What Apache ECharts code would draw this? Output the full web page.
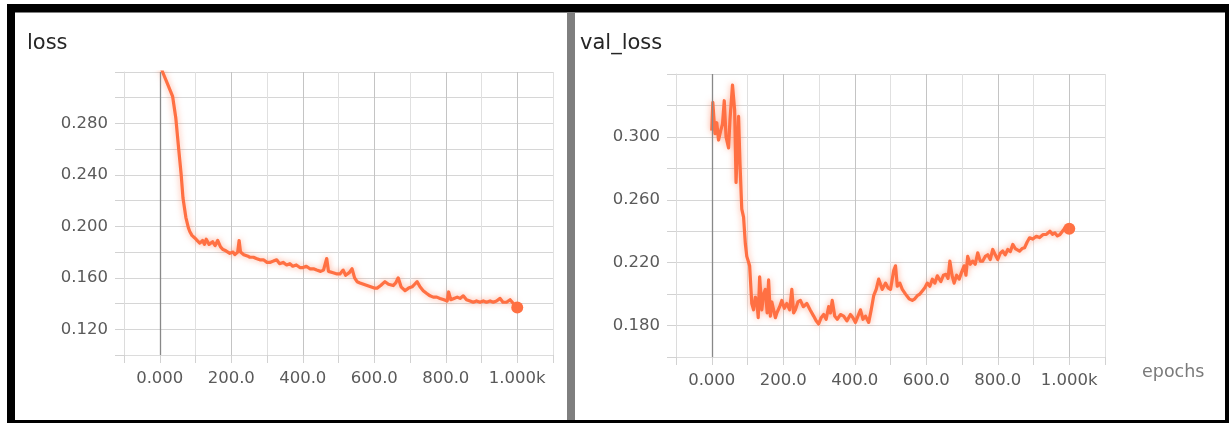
<!DOCTYPE html>
<html>
<head>
<meta charset="utf-8">
<script src="https://cdn.jsdelivr.net/npm/echarts@6/dist/echarts.min.js"></script>
<style>
html,body{margin:0;padding:0;background:#ffffff;}
#chart{width:1229px;height:423px;}
</style>
</head>
<body>
<div id="chart"></div>
<script>
// ---- data ----
const lossEpochs = [0,8,20,36,45,53,60,65,73,80,84,90,98,105,112,120,125,130,138,148,155,162,170,177,185,196,205,210,218,222,226,235,245,252,262,270,280,290,300,308,318,327,335,345,355,364,372,382,392,401,410,420,430,439,450,458,467,472,485,496,504,513,520,530,538,545,552,560,570,580,590,600,608,618,630,640,653,660,667,675,686,696,706,713,720,728,737,746,756,765,775,784,795,804,808,814,823,832,840,849,858,868,877,886,896,905,914,924,933,942,952,960,970,980,985,992,1000];
const lossValues = [0.327,0.320,0.312,0.301,0.284,0.260,0.240,0.222,0.207,0.199,0.196,0.193,0.191,0.189,0.187,0.189,0.186,0.190,0.186,0.188,0.185,0.189,0.184,0.182,0.181,0.179,0.180,0.178,0.180,0.189,0.180,0.178,0.177,0.176,0.176,0.175,0.174,0.174,0.172,0.172,0.173,0.174,0.171,0.172,0.170,0.171,0.169,0.170,0.168,0.168,0.169,0.167,0.167,0.166,0.165,0.166,0.175,0.165,0.164,0.163,0.163,0.166,0.162,0.164,0.167,0.160,0.157,0.156,0.155,0.154,0.153,0.152,0.152,0.154,0.157,0.155,0.154,0.156,0.160,0.153,0.150,0.152,0.153,0.155,0.157,0.153,0.150,0.148,0.146,0.145,0.145,0.144,0.143,0.142,0.149,0.143,0.144,0.145,0.144,0.146,0.143,0.142,0.141,0.142,0.141,0.142,0.141,0.142,0.141,0.142,0.144,0.141,0.141,0.143,0.144,0.139,0.137];

const valEpochs = [0,3,9,14,19,25,30,35,40,47,51,58,64,68,75,79,84,89,94,98,106,112,117,122,126,130,134,140,145,150,155,159,164,168,173,178,182,190,196,203,210,218,224,229,234,241,248,256,266,275,285,292,299,306,313,320,327,332,337,344,351,360,369,378,388,395,402,409,416,423,430,439,446,453,460,467,472,477,486,493,500,509,514,519,526,533,542,552,561,568,575,582,589,596,603,610,617,624,631,641,648,655,661,666,672,678,685,692,699,706,711,716,723,730,737,744,751,758,765,772,779,786,793,800,807,814,821,828,835,842,849,861,868,875,882,889,898,908,917,927,936,946,953,960,967,974,981,988,994,1000];
const valValues = [0.304,0.322,0.302,0.309,0.298,0.304,0.308,0.323,0.300,0.293,0.311,0.333,0.317,0.271,0.313,0.283,0.254,0.249,0.232,0.224,0.218,0.194,0.190,0.198,0.196,0.185,0.211,0.190,0.200,0.203,0.188,0.209,0.186,0.195,0.194,0.185,0.188,0.192,0.196,0.191,0.194,0.190,0.203,0.188,0.190,0.195,0.196,0.192,0.194,0.190,0.186,0.183,0.181,0.185,0.187,0.184,0.192,0.188,0.196,0.186,0.184,0.187,0.186,0.183,0.187,0.185,0.182,0.186,0.190,0.184,0.186,0.182,0.190,0.199,0.203,0.2095,0.210,0.203,0.207,0.204,0.203,0.215,0.218,0.205,0.207,0.203,0.200,0.197,0.196,0.197,0.199,0.200,0.202,0.204,0.207,0.205,0.2095,0.207,0.2116,0.208,0.212,0.2126,0.210,0.221,0.212,0.207,0.212,0.2095,0.214,0.218,0.212,0.224,0.219,0.221,0.219,0.2263,0.221,0.221,0.224,0.225,0.222,0.2284,0.225,0.222,0.226,0.2274,0.225,0.2284,0.227,0.2316,0.229,0.2274,0.229,0.2295,0.233,0.2358,0.235,0.2368,0.236,0.2379,0.238,0.240,0.238,0.2389,0.237,0.2379,0.240,0.2421,0.241,0.2415];

const chartTitles = ['loss', 'val_loss'];
const xAxisName = 'epochs';
const xTickLabels = ['0.000', '200.0', '400.0', '600.0', '800.0', '1.000k'];
const lossTickLabels = ['0.120', '0.160', '0.200', '0.240', '0.280'];
const valTickLabels = ['0.180', '0.220', '0.260', '0.300'];

// ---- styling ----
const FONT = 'DejaVu Sans';
const ORANGE = '#ff7043';
const LABEL_COLOR = '#5a5a5a';

function pairs(xs, ys) { return xs.map((x, i) => [x, ys[i]]); }

function xFormatter(v) {
  if (v >= 0 && v % 200 === 0 && v / 200 < xTickLabels.length) return xTickLabels[v / 200];
  return '';
}
function yFormatter(list) {
  return function (v) { const s = v.toFixed(3); return list.indexOf(s) >= 0 ? s : ''; };
}

function xAxisCfg(gridIndex, withName) {
  const cfg = {
    type: 'value', gridIndex: gridIndex, min: -100, max: 1100, interval: 100,
    axisLine: { show: true, onZero: false, lineStyle: { color: '#dcdcdc', width: 1 } },
    axisTick: { show: true, length: 8, lineStyle: { color: '#d2d2d2', width: 1 } },
    axisLabel: { formatter: xFormatter, margin: 15, fontFamily: FONT, fontSize: 16.5, color: LABEL_COLOR, showMinLabel: true, showMaxLabel: true },
    splitLine: { show: true, lineStyle: { color: ['#e0e0e0', '#c4c4c4'], width: 1 } }
  };
  if (withName) {
    cfg.name = xAxisName;
    cfg.nameLocation = 'end';
    cfg.nameGap = 37;
    cfg.nameTextStyle = { fontFamily: FONT, fontSize: 17.5, color: '#7a7a7a', verticalAlign: 'top', align: 'left', padding: [6, 0, 0, 0] };
  }
  return cfg;
}
function yAxisCfg(gridIndex, min, max, labels) {
  return {
    type: 'value', gridIndex: gridIndex, min: min, max: max, interval: 0.02,
    axisLine: { show: true, onZero: false, lineStyle: { color: '#dcdcdc', width: 1 } },
    axisTick: { show: true, length: 9, lineStyle: { color: '#d2d2d2', width: 1 } },
    axisLabel: { formatter: yFormatter(labels), margin: 16, fontFamily: FONT, fontSize: 16.5, color: LABEL_COLOR, showMinLabel: true, showMaxLabel: true },
    splitLine: { show: true, lineStyle: { color: '#d6d6d6', width: 1 } }
  };
}
function lineSeries(idx, data) {
  return {
    type: 'line', xAxisIndex: idx, yAxisIndex: idx, data: data,
    showSymbol: false, symbol: 'none', smooth: false, clip: true, animation: false,
    lineStyle: { color: ORANGE, width: 3.2, join: 'round', shadowColor: 'rgba(255,112,67,0.55)', shadowBlur: 6 },
    markLine: {
      silent: true, symbol: 'none', animation: false, label: { show: false },
      lineStyle: { color: '#888888', width: 1.3, type: 'solid' },
      data: [{ xAxis: 0 }]
    },
    z: 3
  };
}
function endDot(idx, xs, ys) {
  const n = xs.length - 1;
  return {
    type: 'scatter', xAxisIndex: idx, yAxisIndex: idx, animation: false,
    data: [[xs[n], ys[n]]], symbolSize: 12, itemStyle: { color: ORANGE, opacity: 1 }, z: 4
  };
}

const chart = echarts.init(document.getElementById('chart'), null, { renderer: 'canvas' });
chart.setOption({
  backgroundColor: '#ffffff',
  animation: false,
  title: [
    { text: chartTitles[0], left: 27, top: 33, padding: 0, textStyle: { fontFamily: FONT, fontSize: 21, fontWeight: 'normal', color: '#262626' } },
    { text: chartTitles[1], left: 580, top: 33, padding: 0, textStyle: { fontFamily: FONT, fontSize: 21, fontWeight: 'normal', color: '#262626' } }
  ],
  grid: [
    { left: 124, right: 676, top: 72, bottom: 68, containLabel: false },
    { left: 676, right: 124, top: 74, bottom: 66, containLabel: false }
  ],
  xAxis: [xAxisCfg(0, false), xAxisCfg(1, true)],
  yAxis: [yAxisCfg(0, 0.10, 0.32, lossTickLabels), yAxisCfg(1, 0.16, 0.34, valTickLabels)],
  series: [
    lineSeries(0, pairs(lossEpochs, lossValues)),
    endDot(0, lossEpochs, lossValues),
    lineSeries(1, pairs(valEpochs, valValues)),
    endDot(1, valEpochs, valValues)
  ],
  graphic: [
    { type: 'rect', shape: { x: 7, y: 4, width: 1222, height: 8.5 }, style: { fill: '#000000' }, silent: true },
    { type: 'rect', shape: { x: 7, y: 4, width: 8, height: 419 }, style: { fill: '#000000' }, silent: true },
    { type: 'rect', shape: { x: 1225, y: 4, width: 4, height: 419 }, style: { fill: '#000000' }, silent: true },
    { type: 'rect', shape: { x: 7, y: 420, width: 1222, height: 3 }, style: { fill: '#000000' }, silent: true },
    { type: 'rect', shape: { x: 567, y: 12, width: 8, height: 408 }, style: { fill: '#7f7f7f' }, silent: true }
  ]
});
</script>
</body>
</html>
